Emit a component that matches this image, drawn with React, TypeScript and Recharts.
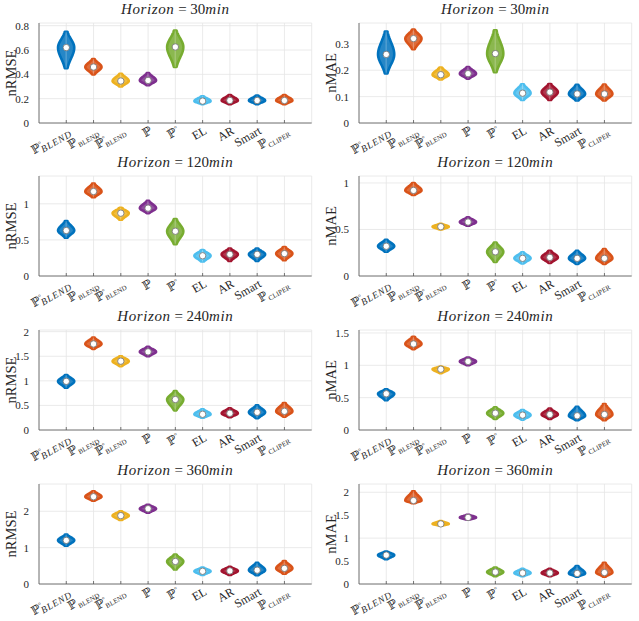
import React from "react";
import { ComposedChart, Bar, Cell, Line, XAxis, YAxis, CartesianGrid, Label } from "recharts";

// categories and their tick labels
const categories = ["PBLENDo", "PBLEND", "PhBLENDo", "P", "Po", "EL", "AR", "Smart", "PCLIPER"];
const tickMain = ["ℙ", "ℙ", "ℙ\u0302", "ℙ", "ℙ", "EL", "AR", "Smart", "ℙ"];
const tickSup = ["°", "", "°", "", "°", "", "", "", ""];
const tickSub = ["BLEND", "BLEND", "BLEND", "", "", "", "", "", "CLIPER"];

const horizons = [30, 120, 240, 360];

// nRMSE: median, lowest and highest value of each violin
const r30Med = [0.62, 0.46, 0.345, 0.35, 0.625, 0.18, 0.185, 0.185, 0.185];
const r30Lo = [0.45, 0.4, 0.3, 0.31, 0.46, 0.155, 0.155, 0.155, 0.155];
const r30Hi = [0.75, 0.525, 0.405, 0.41, 0.76, 0.22, 0.23, 0.225, 0.23];

const r120Med = [0.63, 1.17, 0.87, 0.94, 0.62, 0.28, 0.3, 0.3, 0.31];
const r120Lo = [0.53, 1.09, 0.78, 0.87, 0.44, 0.2, 0.21, 0.21, 0.22];
const r120Hi = [0.76, 1.28, 0.945, 1.04, 0.79, 0.36, 0.38, 0.38, 0.4];

const r240Med = [0.99, 1.75, 1.4, 1.59, 0.62, 0.32, 0.34, 0.36, 0.38];
const r240Lo = [0.86, 1.65, 1.3, 1.5, 0.4, 0.25, 0.26, 0.24, 0.27];
const r240Hi = [1.12, 1.88, 1.5, 1.69, 0.79, 0.42, 0.44, 0.5, 0.55];

const r360Med = [1.2, 2.4, 1.88, 2.07, 0.62, 0.35, 0.36, 0.38, 0.43];
const r360Lo = [1.05, 2.29, 1.76, 1.96, 0.4, 0.25, 0.25, 0.24, 0.28];
const r360Hi = [1.36, 2.55, 2.0, 2.18, 0.81, 0.45, 0.47, 0.58, 0.63];

// nMAE
const m30Med = [0.26, 0.32, 0.183, 0.187, 0.263, 0.113, 0.117, 0.11, 0.11];
const m30Lo = [0.188, 0.28, 0.165, 0.168, 0.193, 0.087, 0.087, 0.085, 0.085];
const m30Hi = [0.347, 0.354, 0.21, 0.212, 0.351, 0.147, 0.148, 0.145, 0.146];

const m120Med = [0.32, 0.92, 0.53, 0.58, 0.26, 0.19, 0.2, 0.19, 0.19];
const m120Lo = [0.26, 0.87, 0.5, 0.54, 0.15, 0.135, 0.14, 0.13, 0.13];
const m120Hi = [0.39, 1.0, 0.56, 0.63, 0.36, 0.255, 0.27, 0.27, 0.29];

const m240Med = [0.56, 1.33, 0.94, 1.06, 0.26, 0.23, 0.24, 0.22, 0.24];
const m240Lo = [0.46, 1.25, 0.88, 1.0, 0.17, 0.16, 0.17, 0.15, 0.15];
const m240Hi = [0.63, 1.44, 0.98, 1.12, 0.35, 0.31, 0.33, 0.36, 0.4];

const m360Med = [0.63, 1.82, 1.31, 1.45, 0.26, 0.24, 0.24, 0.23, 0.25];
const m360Lo = [0.54, 1.76, 1.27, 1.4, 0.17, 0.17, 0.17, 0.16, 0.16];
const m360Hi = [0.71, 2.02, 1.37, 1.51, 0.36, 0.33, 0.33, 0.39, 0.46];

// y axis ticks and upper limits
const r30Ticks = [0, 0.2, 0.4, 0.6, 0.8];
const r120Ticks = [0, 0.5, 1];
const r240Ticks = [0, 0.5, 1, 1.5, 2];
const r360Ticks = [0, 1, 2];
const m30Ticks = [0, 0.1, 0.2, 0.3];
const m120Ticks = [0, 0.5, 1];
const m240Ticks = [0, 0.5, 1, 1.5];
const m360Ticks = [0, 0.5, 1, 1.5, 2];
const rMax = [0.822, 1.385, 2.034, 2.75];
const mMax = [0.379, 1.075, 1.546, 2.18];

const colors = ["#0072BD", "#D95319", "#EDB120", "#7E2F8E", "#77AC30", "#4DBEEE", "#A2142F", "#0072BD", "#D95319"];

const FONT = "'Liberation Serif', 'DejaVu Serif', serif";
const TEXT = "#262626";

const rmse = [
  { med: r30Med, lo: r30Lo, hi: r30Hi, ticks: r30Ticks },
  { med: r120Med, lo: r120Lo, hi: r120Hi, ticks: r120Ticks },
  { med: r240Med, lo: r240Lo, hi: r240Hi, ticks: r240Ticks },
  { med: r360Med, lo: r360Lo, hi: r360Hi, ticks: r360Ticks },
];
const mae = [
  { med: m30Med, lo: m30Lo, hi: m30Hi, ticks: m30Ticks },
  { med: m120Med, lo: m120Lo, hi: m120Hi, ticks: m120Ticks },
  { med: m240Med, lo: m240Lo, hi: m240Hi, ticks: m240Ticks },
  { med: m360Med, lo: m360Lo, hi: m360Hi, ticks: m360Ticks },
];

const rowTops = [23, 176, 330, 484];
const CW = 320;
const CH = 170;

// violin drawn inside the bar's [lo, hi] rectangle
const Violin = (props: any) => {
  const { x, y, width, height, payload, fill } = props;
  if (!height || !payload) return null;
  const cx = x + width / 2;
  const hw = width * 0.3;
  const [lo, hi] = payload.range;
  const med = payload.med;
  const n = 40;
  const right: string[] = [];
  const left: string[] = [];
  for (let i = 0; i <= n; i++) {
    const t = i / n;
    const v = hi - t * (hi - lo);
    const py = y + t * height;
    const s = v >= med ? (hi - med) / 1.9 : (med - lo) / 1.9;
    const w = hw * Math.exp(-0.5 * ((v - med) / s) ** 2);
    right.push(`${(cx + w).toFixed(2)},${py.toFixed(2)}`);
    left.unshift(`${(cx - w).toFixed(2)},${py.toFixed(2)}`);
  }
  const d = `M${right.join("L")}L${left.join("L")}Z`;
  return (
    <g>
      <path d={d} fill={fill} fillOpacity={0.85} stroke={fill} strokeWidth={2.6} strokeLinejoin="round" />
      <line x1={cx} x2={cx} y1={y} y2={y + height} stroke="#ffffff" strokeOpacity={0.3} strokeWidth={1} />
    </g>
  );
};

const CatTick = (props: any) => {
  const { x, y, index } = props;
  const i = index;
  const sup = tickSup[i];
  const sub = tickSub[i];
  return (
    <g>
      <line x1={x} x2={x} y1={y} y2={y - 3} stroke="#555" strokeWidth={0.8} />
      <g transform={`translate(${x + 5},${y + 10}) rotate(-30)`}>
        <text textAnchor="end" fontFamily={FONT} fontSize={12} fill={TEXT}>
          <tspan>{tickMain[i]}</tspan>
          {sup ? <tspan dy={-4} fontSize={7}>{sup}</tspan> : null}
          {sub ? (
            <tspan
              dy={sup ? 7 : 3}
              dx={sup ? -3 : 0}
              fontSize={i === 0 ? 9.5 : 7}
              fontStyle={i === 0 ? "italic" : "normal"}
              letterSpacing={i === 0 ? 0.8 : 0}
            >
              {sub}
            </tspan>
          ) : null}
        </text>
      </g>
    </g>
  );
};

const Panel = ({ set, yMax, yLabel, title, left, top }: any) => {
  const rows = categories.map((name, i) => ({ name, range: [set.lo[i], set.hi[i]], med: set.med[i] }));
  const plotW = CW - 39 - 8.3;
  const pad = plotW * 0.05;
  return (
    <div style={{ position: "absolute", left, top: top - 23, width: CW, height: CH }}>
      <div
        style={{
          position: "absolute",
          left: 39,
          width: plotW,
          top: 2,
          textAlign: "center",
          fontFamily: FONT,
          fontSize: 15,
          lineHeight: "15px",
          color: TEXT,
          whiteSpace: "nowrap",
        }}
      >
        <i style={{ letterSpacing: 0.6 }}>Horizon</i> = {title}
        <i style={{ letterSpacing: 0.6 }}>min</i>
      </div>
      <ComposedChart width={CW} height={CH} data={rows} margin={{ top: 23, right: 8.3, left: 0, bottom: 0 }} barCategoryGap={0}>
        <CartesianGrid stroke="#e4e4e4" strokeWidth={0.8} />
        <XAxis
          dataKey="name"
          interval={0}
          padding={{ left: pad, right: pad }}
          height={47}
          tickSize={0}
          tickMargin={0}
          tickLine={false}
          axisLine={{ stroke: "#555", strokeWidth: 0.8 }}
          tick={<CatTick />}
        />
        <XAxis xAxisId="top" orientation="top" dataKey="name" height={0} tick={false} tickLine={false} axisLine={{ stroke: "#555", strokeWidth: 0.8 }} />
        <YAxis
          type="number"
          domain={[0, yMax]}
          ticks={set.ticks}
          allowDataOverflow
          width={39}
          tickLine={false}
          tickMargin={4}
          axisLine={{ stroke: "#555", strokeWidth: 0.8 }}
          tick={{ fontFamily: FONT, fontSize: 11, fill: TEXT }}
        >
          <Label
            content={(p: any) => {
              const vb = p.viewBox || {};
              const cy = vb.y + vb.height / 2;
              return (
                <text
                  x={16}
                  y={cy}
                  transform={`rotate(-90, 16, ${cy})`}
                  textAnchor="middle"
                  fontFamily={FONT}
                  fontSize={14.5}
                  fill={TEXT}
                >
                  {yLabel}
                </text>
              );
            }}
          />
        </YAxis>
        <YAxis yAxisId="right" orientation="right" width={0} tick={false} tickLine={false} axisLine={{ stroke: "#555", strokeWidth: 0.8 }} />
        <Bar dataKey="range" shape={<Violin />} isAnimationActive={false}>
          {rows.map((r, i) => (
            <Cell key={r.name} fill={colors[i]} />
          ))}
        </Bar>
        <Line
          dataKey="med"
          stroke="none"
          isAnimationActive={false}
          activeDot={false}
          dot={{ r: 3.2, fill: "#ffffff", stroke: "#6f6f6f", strokeWidth: 0.8 }}
        />
      </ComposedChart>
    </div>
  );
};

export default function App() {
  return (
    <div style={{ position: "absolute", left: 0, top: 0, width: 639, height: 621, background: "#fff" }}>
      {horizons.map((h, r) => (
        <React.Fragment key={h}>
          <Panel set={rmse[r]} yMax={rMax[r]} yLabel="nRMSE" title={`${h}`} left={0} top={rowTops[r]} />
          <Panel set={mae[r]} yMax={mMax[r]} yLabel="nMAE" title={`${h}`} left={320} top={rowTops[r]} />
        </React.Fragment>
      ))}
    </div>
  );
}
